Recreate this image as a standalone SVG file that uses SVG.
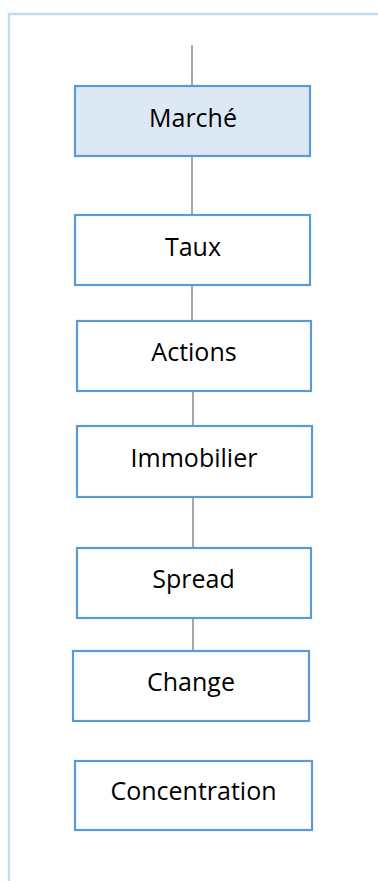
<svg xmlns="http://www.w3.org/2000/svg" width="378" height="881" viewBox="0 0 378 881">
  <style>
    .frame { fill: none; stroke: #c3dbf0; stroke-width: 2.5; }
    .link { stroke: #a6a6a6; stroke-width: 2; fill: none; }
    .box { fill: #ffffff; stroke: #5b9bd5; stroke-width: 2.2; }
    .box.root { fill: #dde8f5; }
    .label { font-family: "Open Sans", "Noto Sans", "Liberation Sans", sans-serif; font-size: 25px; fill: #000000; text-anchor: middle; }
  </style>
  <rect width="378" height="881" fill="#ffffff"/>
  <!-- outer panel, running off the right and bottom edges -->
  <path class="frame" d="M9 881 V14 H378"/>

  <g id="connectors">
    <line class="link" x1="192" y1="45" x2="192" y2="86"/>
    <line class="link" x1="192" y1="156" x2="192" y2="215"/>
    <line class="link" x1="192" y1="285" x2="192" y2="321"/>
    <line class="link" x1="193" y1="391" x2="193" y2="426"/>
    <line class="link" x1="193" y1="497" x2="193" y2="548"/>
    <line class="link" x1="193" y1="618" x2="193" y2="651"/>
  </g>

  <g id="node-marche">
    <rect class="box root" x="75" y="86" width="235" height="70"/>
    <text class="label" x="193" y="127">Marché</text>
  </g>
  <g id="node-taux">
    <rect class="box" x="75" y="215" width="235" height="70"/>
    <text class="label" x="193" y="256">Taux</text>
  </g>
  <g id="node-actions">
    <rect class="box" x="77" y="321" width="234" height="70"/>
    <text class="label" x="194" y="361">Actions</text>
  </g>
  <g id="node-immobilier">
    <rect class="box" x="77" y="426" width="235" height="71"/>
    <text class="label" x="194" y="467">Immobilier</text>
  </g>
  <g id="node-spread">
    <rect class="box" x="77" y="548" width="234" height="70"/>
    <text class="label" x="193.5" y="588">Spread</text>
  </g>
  <g id="node-change">
    <rect class="box" x="73" y="651" width="236" height="70"/>
    <text class="label" x="191" y="691">Change</text>
  </g>
  <g id="node-concentration">
    <rect class="box" x="75" y="761" width="237" height="69"/>
    <text class="label" x="193.5" y="800">Concentration</text>
  </g>
</svg>
